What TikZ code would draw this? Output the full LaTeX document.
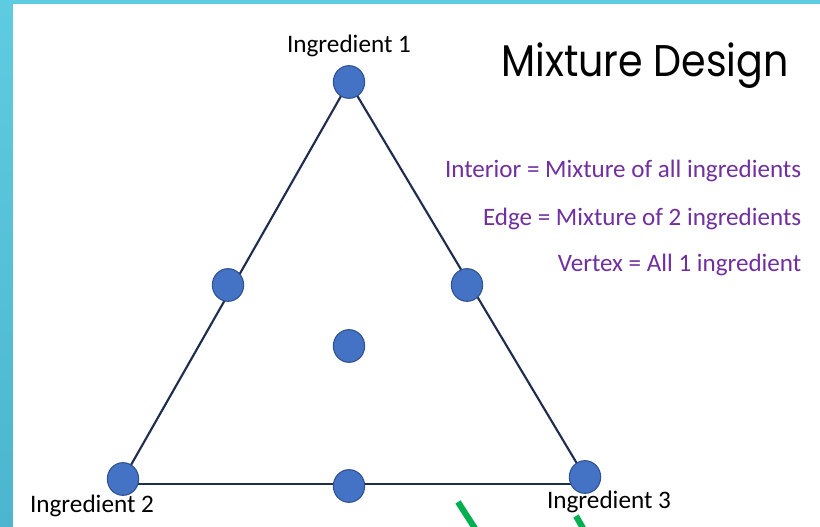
\documentclass[tikz,border=0pt]{standalone}
\usepackage{fontspec}
\setmainfont{Carlito}
\newfontfamily\titlefont{Poppins}
\usetikzlibrary{shapes.geometric}
\definecolor{frametop}{HTML}{5ECCE0}
\definecolor{framebot}{HTML}{4DB5CF}
\definecolor{ptfill}{HTML}{4472C4}
\definecolor{ptedge}{HTML}{2F528F}
\definecolor{tri}{HTML}{1F2D4F}
\definecolor{purp}{HTML}{7030A0}
\definecolor{grn}{HTML}{00B050}
\begin{document}
\begin{tikzpicture}[x=0.75pt,y=-0.75pt,
  pt/.style={ellipse,draw=ptedge,fill=ptfill,line width=0.8pt,minimum width=23.5pt,minimum height=24.5pt,inner sep=0pt},
  lbl/.style={font=\fontsize{18.9}{20}\selectfont,text=black,inner sep=0pt,anchor=base},
  note/.style={font=\fontsize{18.8}{20}\selectfont,text=purp,inner sep=0pt,anchor=base east},
  edge/.style={draw=tri,line width=1.6pt},
  greenstroke/.style={draw=grn,line width=4.6pt}]
\shade[top color=frametop,bottom color=framebot] (0,0) rectangle (820,527);
\fill[white] (13,4) rectangle (820,527);
\useasboundingbox (0,0) rectangle (820,527);
\coordinate (A) at (349,82);
\coordinate (B) at (123,479);
\coordinate (C) at (585,477);
\coordinate (Bb) at (123,484);
\coordinate (Cb) at (585,484);
\draw[edge] (B) -- (A) -- (C);
\draw[edge] (Bb) -- (Cb);
\node[pt] (p1) at (A) {};
\node[pt] (p2) at (B) {};
\node[pt] (p3) at (C) {};
\node[pt] (p4) at (228,285) {};
\node[pt] (p5) at (467,285) {};
\node[pt] (p6) at (349,486) {};
\node[pt] (p7) at (349,346) {};
\node[lbl] (l1) at (349,53) {Ingredient 1};
\node[lbl] (l2) at (92,512) {Ingredient 2};
\node[lbl] (l3) at (609,508) {Ingredient 3};
\node[inner sep=0pt,anchor=base,yscale=1.12,font=\titlefont\fontsize{29.7}{32}\selectfont] (title) at (645,77) {Mixture Design};
\node[note] (n1) at (801.5,178) {Interior = Mixture of all ingredients};
\node[note] (n2) at (801.5,225) {Edge = Mixture of 2 ingredients};
\node[note] (n3) at (801.5,272) {Vertex = All 1 ingredient};
\coordinate (g1a) at (458,502);
\coordinate (g1b) at (476,530);
\coordinate (g2a) at (576,516);
\coordinate (g2b) at (584,530);
\draw[greenstroke] (g1a) -- (g1b);
\draw[greenstroke] (g2a) -- (g2b);
\end{tikzpicture}
\end{document}
